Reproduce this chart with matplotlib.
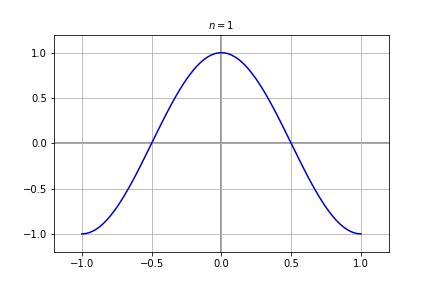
import matplotlib
matplotlib.use('Agg')
import matplotlib.pyplot as plt
import numpy as np

# curve values, x from -1 to 1 in steps of 0.025
x_vals = [-1.000, -0.975, -0.950, -0.925, -0.900, -0.875, -0.850, -0.825, -0.800, -0.775,
          -0.750, -0.725, -0.700, -0.675, -0.650, -0.625, -0.600, -0.575, -0.550, -0.525,
          -0.500, -0.475, -0.450, -0.425, -0.400, -0.375, -0.350, -0.325, -0.300, -0.275,
          -0.250, -0.225, -0.200, -0.175, -0.150, -0.125, -0.100, -0.075, -0.050, -0.025,
          0.000, 0.025, 0.050, 0.075, 0.100, 0.125, 0.150, 0.175, 0.200, 0.225,
          0.250, 0.275, 0.300, 0.325, 0.350, 0.375, 0.400, 0.425, 0.450, 0.475,
          0.500, 0.525, 0.550, 0.575, 0.600, 0.625, 0.650, 0.675, 0.700, 0.725,
          0.750, 0.775, 0.800, 0.825, 0.850, 0.875, 0.900, 0.925, 0.950, 0.975, 1.000]
y_vals = [-1.000, -0.997, -0.988, -0.972, -0.951, -0.924, -0.891, -0.853, -0.809, -0.760,
          -0.707, -0.649, -0.588, -0.522, -0.454, -0.383, -0.309, -0.233, -0.156, -0.078,
          0.000, 0.078, 0.156, 0.233, 0.309, 0.383, 0.454, 0.522, 0.588, 0.649,
          0.707, 0.760, 0.809, 0.853, 0.891, 0.924, 0.951, 0.972, 0.988, 0.997,
          1.000, 0.997, 0.988, 0.972, 0.951, 0.924, 0.891, 0.853, 0.809, 0.760,
          0.707, 0.649, 0.588, 0.522, 0.454, 0.383, 0.309, 0.233, 0.156, 0.078,
          0.000, -0.078, -0.156, -0.233, -0.309, -0.383, -0.454, -0.522, -0.588, -0.649,
          -0.707, -0.760, -0.809, -0.853, -0.891, -0.924, -0.951, -0.972, -0.988, -0.997, -1.000]
x_ticks = [-1.0, -0.5, 0.0, 0.5, 1.0]
y_ticks = [-1.0, -0.5, 0.0, 0.5, 1.0]
title = '$n=1$'

fig, ax = plt.subplots(figsize=(6, 4), dpi=72)
fig.subplots_adjust(left=0.125, right=0.9, top=0.88, bottom=0.125)

ax.axhline(0, color='gray', linewidth=1.6, zorder=1)
ax.axvline(0, color='gray', linewidth=1.6, zorder=1)
ax.plot(x_vals, y_vals, color='mediumblue', linewidth=1.5, zorder=3)

ax.set_xlim(-1.2, 1.2)
ax.set_ylim(-1.2, 1.2)
ax.set_xticks(x_ticks)
ax.set_yticks(y_ticks)
ax.grid(True, color='#b0b0b0', linewidth=0.8)
ax.set_title(title, fontsize=10)

fig.savefig('out.png', dpi=72)
